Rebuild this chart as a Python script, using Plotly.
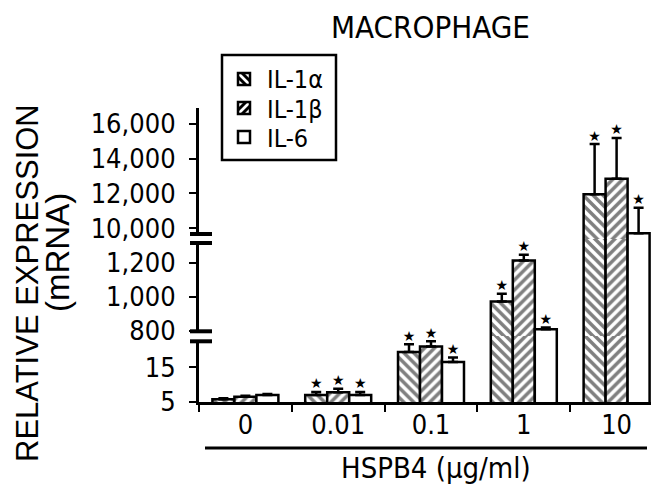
import plotly.graph_objects as go

# HSPB4 dose (µg/ml) and relative mRNA expression in macrophages
doses = ["0", "0.01", "0.1", "1", "10"]

il1a = [5.8, 7.0, 19.4, 972, 11950]
il1a_err = [0.3, 0.9, 2.2, 46, 2890]

il1b = [6.5, 7.8, 21.0, 1213, 12850]
il1b_err = [0.3, 1.0, 1.5, 34, 2340]

il6 = [7.0, 7.0, 16.5, 810, 9710]
il6_err = [0.3, 0.9, 1.3, 10, 1470]

# significance vs. untreated control
signif = [False, True, True, True, True]

series = [
    ("IL-1α", il1a, il1a_err, "\\"),
    ("IL-1β", il1b, il1b_err, "/"),
    ("IL-6", il6, il6_err, ""),
]

W, H = 651, 495
L, R, T, B = 199, 0, 108, 93
PW, PH = W - L - R, H - T - B
BOTTOM_PX = H - B


def px(x):
    return (x - L) / PW


def py(y):
    return (BOTTOM_PX - y) / PH


NARROW = "DejaVu Sans Condensed, Liberation Sans Narrow, Arial Narrow, sans-serif"
REGULAR = "Liberation Sans, Arial, sans-serif"

# broken y axis: three stacked segments sharing one x axis
segments = [
    ("y", [5, 24], [0, py(336)], 5, 10),
    ("y2", [770, 1340], [py(336), py(239)], 800, 200),
    ("y3", [9385, 16910], [py(239), 1], 10000, 2000),
]

bar_w = 0.237
offsets = [-bar_w, 0.0, bar_w]

fig = go.Figure()

for (name, vals, errs, shape), off in zip(series, offsets):
    xs = [i + off for i in range(len(doses))]
    for yref, _, _, _, _ in segments:
        fig.add_trace(go.Bar(
            x=xs, y=vals, width=bar_w, yaxis=yref, name=name,
            showlegend=False,
            marker=dict(
                color="white",
                line=dict(color="black", width=2.5),
                pattern=dict(shape=shape, fgcolor="black", bgcolor="white",
                             size=7, solidity=0.5),
            ),
            error_y=dict(type="data", symmetric=False, array=errs,
                         arrayminus=[0] * len(errs), color="black",
                         thickness=2.5, width=5),
        ))
    # significance stars above the error caps, placed in the segment that holds them
    for yref, rng, _, _, _ in segments:
        sx, sy = [], []
        for i, (v, e) in enumerate(zip(vals, errs)):
            top = v + e
            if signif[i] and rng[0] <= top < rng[1]:
                sx.append(i + off)
                sy.append(top)
        if sx:
            fig.add_trace(go.Scatter(
                x=sx, y=sy, yaxis=yref, mode="text", text=["★"] * len(sx),
                textposition="top center", showlegend=False,
                textfont=dict(size=14, color="black", family="DejaVu Sans"),
                cliponaxis=False,
            ))

layout = dict(
    width=W, height=H,
    margin=dict(l=L, r=R, t=T, b=B, pad=0),
    paper_bgcolor="white", plot_bgcolor="white",
    barmode="overlay",
    showlegend=False,
    font=dict(family=NARROW, color="black"),
    xaxis=dict(
        range=[-0.5, -0.5 + PW / 92.8], anchor="y",
        tickmode="array", tickvals=list(range(len(doses))), ticktext=doses,
        ticks="", showgrid=False, zeroline=False,
        showline=True, linecolor="black", linewidth=3,
        tickfont=dict(size=27, family=NARROW),
        ticklabelstandoff=-3,
        minor=dict(tickmode="linear", tick0=-0.5, dtick=1, ticks="outside",
                   ticklen=7, tickwidth=2, tickcolor="black", showgrid=False),
    ),
)

for idx, (yref, rng, dom, t0, dt) in enumerate(segments):
    key = "yaxis" if yref == "y" else "yaxis" + yref[1:]
    layout[key] = dict(
        range=rng, domain=dom, anchor="x",
        tickmode="linear", tick0=t0, dtick=dt, tickformat=",",
        ticks="outside", ticklen=7, tickwidth=2, tickcolor="black",
        showgrid=False, zeroline=False,
        showline=True, linecolor="black", linewidth=3,
        tickfont=dict(size=27, family=NARROW),
        ticklabelstandoff=8,
    )

fig.update_layout(**layout)

shapes = []
# axis break marks
for y_lo, y_hi in [(243, 234), (341.3, 331.3)]:
    shapes.append(dict(type="rect", xref="paper", yref="paper",
                       x0=px(195), x1=px(203), y0=py(y_lo), y1=py(y_hi),
                       fillcolor="white", line=dict(width=0), layer="above"))
    for yy in (y_lo, y_hi):
        shapes.append(dict(type="line", xref="paper", yref="paper",
                           x0=px(190), x1=px(212), y0=py(yy), y1=py(yy),
                           line=dict(color="black", width=4), layer="above"))

# underline for the dose axis
shapes.append(dict(type="line", xref="paper", yref="paper",
                   x0=px(205), x1=px(647), y0=py(448), y1=py(448),
                   line=dict(color="black", width=3)))

# legend box
shapes.append(dict(type="rect", xref="paper", yref="paper",
                   x0=px(222), x1=px(336), y0=py(160), y1=py(55),
                   fillcolor="white", line=dict(color="black", width=2.5),
                   layer="above"))

annotations = [
    dict(text="MACROPHAGE", x=px(430), y=py(27), xref="paper", yref="paper",
         showarrow=False, font=dict(size=31, family=NARROW),
         xanchor="center", yanchor="middle"),
    dict(text="HSPB4 (μg/ml)", x=px(436), y=py(468), xref="paper", yref="paper",
         showarrow=False, font=dict(size=29, family=NARROW),
         xanchor="center", yanchor="middle"),
    dict(text="RELATIVE EXPRESSION", x=px(27), y=py(283), xref="paper",
         yref="paper", showarrow=False, textangle=-90,
         font=dict(size=31, family=REGULAR), xanchor="center", yanchor="middle"),
    dict(text="(mRNA)", x=px(57), y=py(253), xref="paper", yref="paper",
         showarrow=False, textangle=-90,
         font=dict(size=33, family=REGULAR), xanchor="center", yanchor="middle"),
]

# legend entries: swatch + label
row_y = [79, 108, 137]
for (name, _, _, shape), ry in zip(series, row_y):
    x0, x1, y0, y1 = 238, 250, ry - 6, ry + 6
    shapes.append(dict(type="rect", xref="paper", yref="paper",
                       x0=px(x0), x1=px(x1), y0=py(y1), y1=py(y0),
                       fillcolor="white", line=dict(color="black", width=2.5),
                       layer="above"))
    if shape == "\\":
        segs = [((x0, y0 + 4), (x1 - 4, y1)), ((x0 + 4, y0), (x1, y1 - 4))]
    elif shape == "/":
        segs = [((x0, y1 - 4), (x1 - 4, y0)), ((x0 + 4, y1), (x1, y0 + 4))]
    else:
        segs = []
    for (ax, ay), (bx, by) in segs:
        shapes.append(dict(type="line", xref="paper", yref="paper",
                           x0=px(ax), x1=px(bx), y0=py(ay), y1=py(by),
                           line=dict(color="black", width=3), layer="above"))
    annotations.append(dict(text=name, x=px(265), y=py(ry + 1), xref="paper",
                            yref="paper", showarrow=False,
                            font=dict(size=25, family=NARROW),
                            xanchor="left", yanchor="middle"))

fig.update_layout(shapes=shapes, annotations=annotations)

fig.write_html("out.html")
